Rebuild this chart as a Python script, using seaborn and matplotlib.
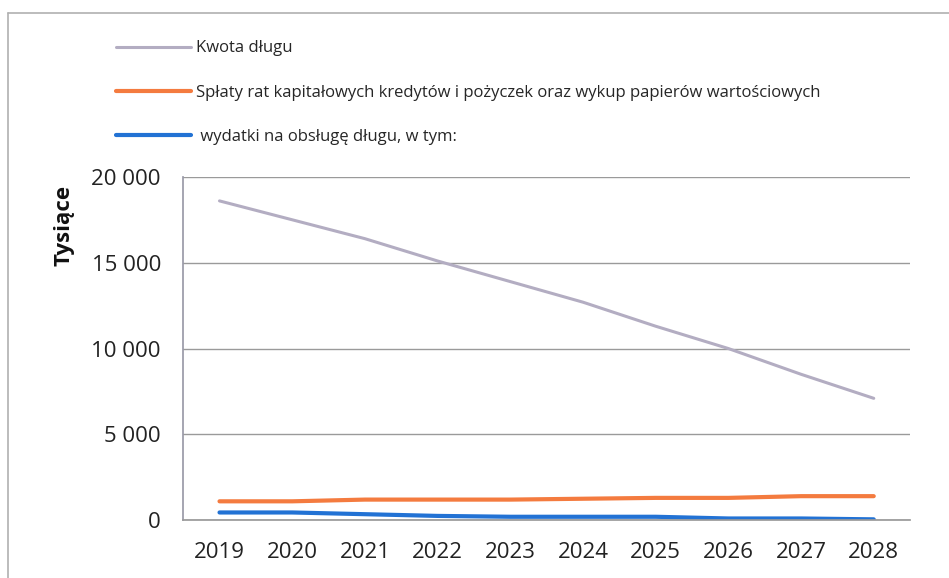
import matplotlib
matplotlib.use("Agg")
import matplotlib.pyplot as plt
import seaborn as sns
import pandas as pd
from matplotlib.lines import Line2D
from matplotlib.ticker import FuncFormatter, FixedLocator

years = ["2019", "2020", "2021", "2022", "2023", "2024", "2025", "2026", "2027", "2028"]
kwota = [18600, 17500, 16400, 15100, 13900, 12700, 11300, 10000, 8500, 7100]
splaty = [1100, 1100, 1200, 1200, 1200, 1250, 1300, 1300, 1400, 1400]
wydatki = [450, 450, 350, 250, 200, 200, 200, 100, 100, 50]
series_names = ["Kwota długu",
                "Spłaty rat kapitałowych kredytów i pożyczek oraz wykup papierów wartościowych",
                " wydatki na obsługę długu, w tym:"]
colors = ["#b3adc2", "#f47b3f", "#2272d4"]
widths = [2.2, 3, 3]

df = pd.DataFrame({
    "rok": years * 3,
    "wartosc": kwota + splaty + wydatki,
    "seria": [series_names[0]] * 10 + [series_names[1]] * 10 + [series_names[2]] * 10,
})

sns.set_theme(style="white")
plt.rcParams['font.family'] = ['Open Sans', 'DejaVu Sans']

fig = plt.figure(figsize=(9.49, 5.78), dpi=100)
ax = fig.add_axes([0.193, 0.100, 0.766, 0.594])

sns.lineplot(data=df, x="rok", y="wartosc", hue="seria", palette=colors,
             hue_order=series_names, linewidth=3, ax=ax, legend=False, sort=False)
for ln, w in zip(ax.get_lines(), widths):
    ln.set_linewidth(w)

ax.set_xlim(-0.5, 9.5)
ax.set_ylim(0, 20000)
ax.yaxis.set_major_locator(FixedLocator([0, 5000, 10000, 15000, 20000]))
ax.yaxis.set_major_formatter(FuncFormatter(lambda v, p: f"{int(v):,}".replace(",", " ")))
ax.grid(axis="y", color="#9a9a9a", linewidth=1)
ax.set_axisbelow(True)
for s in ["top", "right"]:
    ax.spines[s].set_visible(False)
ax.spines["left"].set_color("#9a9aa8")
ax.spines["bottom"].set_color("#9a9a9a")
ax.set_xlabel("")
ax.set_ylabel("")
ax.tick_params(axis="both", labelsize=16, colors="#222222", length=0)
ax.tick_params(axis="y", pad=16)
ax.tick_params(axis="x", pad=16)
ax.set_xticks(range(10))
ax.set_xticks([i - 0.5 for i in range(11)], minor=True)
ax.tick_params(axis="x", which="minor", length=8, color="#9a9a9a", direction="out")

fig.text(0.067, 0.61, "Tysiące", rotation=90, fontsize=16, fontweight="bold",
         ha="center", va="center", color="#111111")

handles = [Line2D([0], [0], color=c, lw=w) for c, w in zip(colors, widths)]
fig.legend(handles, series_names, loc="upper left", bbox_to_anchor=(0.106, 0.956),
           frameon=False, fontsize=12, handlelength=4.5, handletextpad=0.3,
           labelspacing=1.7)

# outer frame
fig.add_artist(Line2D([0.008, 0.008], [0.0, 0.977], color="#b0b0b0", lw=1.2))
fig.add_artist(Line2D([0.008, 1.0], [0.977, 0.977], color="#b0b0b0", lw=1.2))

fig.savefig("out.png", dpi=100)
